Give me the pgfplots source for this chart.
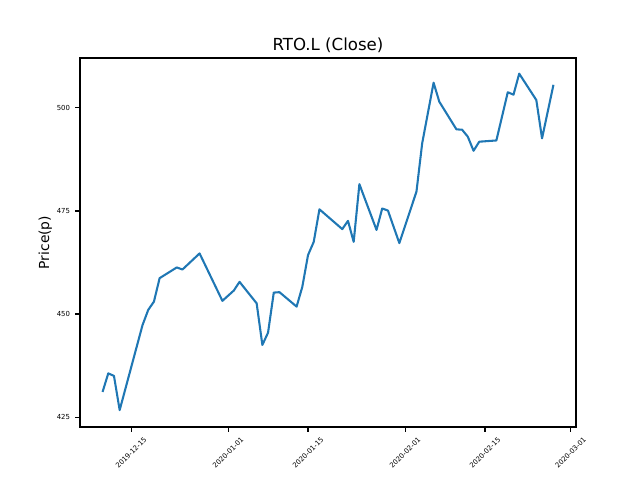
\documentclass[border=0pt]{standalone}
\usepackage{fontspec}
\setmainfont{DejaVu Sans}
\usepackage{pgfplots}
\pgfplotsset{compat=1.18}
\definecolor{mplblue}{HTML}{1F77B4}
\begin{document}
\begin{tikzpicture}
\path[use as bounding box] (0,0) rectangle (6.4in,4.8in);
\begin{axis}[
 at={(0.8in,0.53in)}, anchor=south west, scale only axis,
 width=4.96in, height=3.69in,
 xmin=-25.95, xmax=60.95, ymin=422.6, ymax=512.1,
 xtick={-17,0,14,31,45,60},
 xticklabels={2019-12-15,2020-01-01,2020-01-15,2020-02-01,2020-02-15,2020-03-01},
 ytick={425,450,475,500},
 tick align=outside, tick pos=left, major tick length=3.5pt,
 every tick/.style={black, line width=0.8pt},
 axis line style={line width=0.8pt},
 tick label style={font=\fontsize{5}{6}\selectfont},
 yticklabel style={inner sep=0pt, xshift=-3.5pt},
 xticklabel style={yshift=-15pt, rotate=45, anchor=center, inner sep=0pt},
 title={RTO.L (Close)},
 title style={font=\fontsize{12}{14}\selectfont, at={(0.5,1)}, anchor=base, yshift=-0.5pt},
 ylabel={Price(p)},
 ylabel style={font=\fontsize{10}{12}\selectfont, at={(axis description cs:-0.07,0.5)}, anchor=center},
 /pgf/number format/assume math mode=true,
 scaled ticks=false,
]
\addplot[mplblue, line width=1.5pt, line join=round] coordinates {
(-22,431.1) (-21,435.6) (-20,435.0) (-19,426.7) (-15,447.3) (-14,451.0) (-13,453.0)
(-12,458.7) (-9,461.3) (-8,460.8) (-5,464.7) (-1,453.2) (1,455.7) (2,457.8)
(5,452.6) (6,442.5) (7,445.5) (8,455.2) (9,455.3) (12,451.8) (13,456.6)
(14,464.3) (15,467.5) (16,475.4) (20,470.6) (21,472.6) (22,467.5) (23,481.5)
(26,470.4) (27,475.6) (28,475.1) (30,467.2) (33,479.7) (34,491.4) (36,506.1)
(37,501.5) (40,494.8) (41,494.7) (42,493.0) (43,489.6) (44,491.8) (47,492.1)
(49,503.8) (50,503.2) (51,508.3) (54,501.9) (55,492.6) (57,505.6)
};
\end{axis}
\end{tikzpicture}
\end{document}
